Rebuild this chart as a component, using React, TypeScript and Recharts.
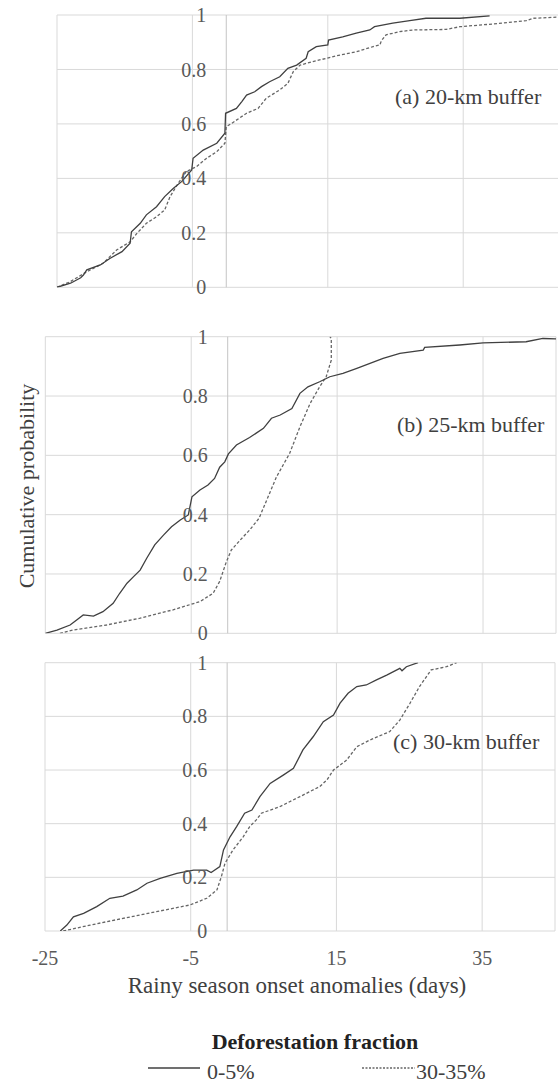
import React from "react";
import { LineChart, Line, XAxis, YAxis, ReferenceLine, ReferenceDot } from "recharts";

// ticks
const yTicks = [0, 0.2, 0.4, 0.6, 0.8, 1];
const yTickLabels = ["0", "0.2", "0.4", "0.6", "0.8", "1"];
const xTicks = [-25, -5, 15, 35];

// (a) 20-km buffer
const a0X = [-25, -23, -21.5, -21.1, -20.6, -18.6, -17.2, -15.4, -14.2, -14.0, -12.7, -11.8, -10.3, -9.1, -7.8, -6.6, -5.1, -4.9, -3.4, -1.4, -0.2, -0.1, 1.5, 2.3, 3.0, 4.2, 5.2, 6.4, 7.9, 9.1, 10.4, 11.8, 12.1, 13.3, 15.0, 15.1, 17.2, 19.2, 21.2, 21.9, 24.6, 27.1, 29.5, 34.5, 38.9];
const a0Y = [0, 0.015, 0.035, 0.045, 0.064, 0.082, 0.106, 0.131, 0.162, 0.204, 0.235, 0.266, 0.296, 0.333, 0.364, 0.388, 0.431, 0.474, 0.504, 0.529, 0.566, 0.639, 0.657, 0.682, 0.706, 0.718, 0.737, 0.755, 0.773, 0.804, 0.816, 0.841, 0.865, 0.884, 0.89, 0.908, 0.92, 0.933, 0.945, 0.957, 0.97, 0.979, 0.988, 0.988, 0.997];
const a30X = [-25, -23.1, -20.6, -18.2, -16.2, -14.2, -13.2, -11.8, -10.3, -9.1, -8.3, -7.1, -5.9, -4.4, -2.9, -1.4, -0.2, 0.0, 0.8, 1.5, 3.0, 4.7, 5.9, 7.9, 9.1, 9.9, 10.9, 12.8, 14.8, 16.8, 19.2, 21.7, 22.7, 22.9, 23.6, 25.6, 27.6, 32.5, 34.5, 39.4, 44.3, 45.3, 48.9];
const a30Y = [0, 0.02, 0.057, 0.088, 0.137, 0.167, 0.198, 0.235, 0.259, 0.284, 0.333, 0.382, 0.425, 0.443, 0.474, 0.498, 0.529, 0.59, 0.602, 0.614, 0.639, 0.657, 0.694, 0.725, 0.749, 0.792, 0.816, 0.829, 0.841, 0.853, 0.865, 0.884, 0.89, 0.905, 0.927, 0.939, 0.945, 0.947, 0.957, 0.967, 0.979, 0.988, 0.992];

// (b) 25-km buffer
const b0X = [-25, -23.4, -21.6, -20.7, -19.8, -18.4, -17.1, -15.7, -14.8, -13.8, -12.9, -12.0, -11.1, -10.0, -8.8, -7.7, -6.5, -5.4, -4.9, -3.8, -2.7, -1.8, -1.1, -0.4, 0.1, 1.2, 3.0, 4.9, 6.0, 7.2, 8.8, 9.9, 11.0, 12.6, 14.0, 15.8, 17.7, 19.5, 21.3, 23.6, 26.8, 27.0, 31.8, 35.0, 40.9, 43.2, 45];
const b0Y = [0, 0.011, 0.028, 0.045, 0.062, 0.058, 0.073, 0.101, 0.135, 0.169, 0.191, 0.213, 0.253, 0.298, 0.331, 0.359, 0.382, 0.399, 0.46, 0.483, 0.5, 0.522, 0.56, 0.578, 0.605, 0.635, 0.66, 0.691, 0.725, 0.736, 0.758, 0.809, 0.831, 0.848, 0.865, 0.876, 0.893, 0.91, 0.927, 0.944, 0.955, 0.964, 0.972, 0.979, 0.983, 0.994, 0.993];
const b30X = [-23, -21.2, -16.6, -12.0, -7.5, -3.8, -2.0, -1.1, -0.2, 0.5, 1.7, 3.0, 4.3, 6.7, 8.5, 9.9, 11.3, 12.6, 13.5, 14.2, 14.2, 14.0];
const b30Y = [0, 0.011, 0.028, 0.051, 0.079, 0.107, 0.135, 0.175, 0.24, 0.281, 0.314, 0.348, 0.388, 0.528, 0.607, 0.696, 0.775, 0.831, 0.865, 0.921, 0.994, 1];

// (c) 30-km buffer
const c0X = [-22.9, -22.0, -21.1, -19.7, -17.9, -16.1, -14.3, -12.4, -11.0, -9.2, -6.9, -4.6, -2.8, -2.2, -1.0, -0.5, 0.4, 1.3, 2.4, 3.4, 4.5, 5.9, 7.7, 9.1, 10.4, 11.8, 13.2, 14.6, 15.5, 16.6, 17.8, 19.1, 20.5, 21.9, 23.7, 24.0, 24.6, 26.2];
const c0Y = [0, 0.022, 0.053, 0.066, 0.091, 0.122, 0.13, 0.153, 0.178, 0.196, 0.215, 0.227, 0.227, 0.218, 0.24, 0.302, 0.351, 0.389, 0.439, 0.451, 0.501, 0.55, 0.581, 0.606, 0.675, 0.724, 0.78, 0.805, 0.849, 0.886, 0.911, 0.917, 0.936, 0.954, 0.979, 0.97, 0.985, 1];
const c30X = [-22.5, -18.8, -14.3, -9.7, -5.1, -2.8, -1.4, -0.8, -0.3, 0.8, 2.2, 3.1, 4.0, 4.7, 7.2, 10.0, 12.7, 13.7, 14.6, 16.4, 17.8, 19.6, 22.3, 23.7, 25.1, 26.4, 28.0, 30.1, 31.5];
const c30Y = [0, 0.022, 0.047, 0.072, 0.097, 0.122, 0.153, 0.202, 0.252, 0.302, 0.351, 0.389, 0.414, 0.439, 0.463, 0.501, 0.538, 0.563, 0.6, 0.637, 0.687, 0.712, 0.743, 0.786, 0.849, 0.911, 0.973, 0.985, 1];

const serif = "Liberation Serif";
const gridColor = "#d9d9d9";

const zip = (xs: number[], ys: number[]) => xs.map((x, i) => ({ x, y: ys[i] }));

type PanelProps = {
  top: number;
  height: number;
  margin: { top: number; right: number; bottom: number; left: number };
  xMax: number;
  grid: number[];
  low: { x: number; y: number }[];
  high: { x: number; y: number }[];
  showX?: boolean;
};

function Panel({ top, height, margin, xMax, grid, low, high, showX }: PanelProps) {
  return (
    <div style={{ position: "absolute", left: 0, top }}>
      <LineChart width={558} height={height} margin={margin}>
        <XAxis
          type="number"
          dataKey="x"
          domain={[-25, xMax]}
          ticks={xTicks}
          hide={!showX}
          height={44}
          axisLine={false}
          tickLine={false}
          tickMargin={14}
          tick={{ fill: "#595959", fontSize: 20, fontFamily: serif }}
          allowDataOverflow
        />
        <YAxis type="number" domain={[0, 1]} hide allowDataOverflow />
        {yTicks.map((v) => (
          <ReferenceLine key={"h" + v} y={v} stroke={gridColor} strokeWidth={1} />
        ))}
        {grid.map((v) => (
          <ReferenceLine key={"v" + v} x={v} stroke={gridColor} strokeWidth={1} />
        ))}
        <ReferenceLine x={0} stroke="#c4c4c4" strokeWidth={1} />
        {yTicks.map((v, i) => (
          <ReferenceDot
            key={"l" + v}
            x={0}
            y={v}
            r={0}
            fill="none"
            stroke="none"
            label={{ value: yTickLabels[i], position: "left", offset: 20, fill: "#595959", fontSize: 20, fontFamily: serif }}
          />
        ))}
        <Line data={high} dataKey="y" type="linear" stroke="#666666" strokeWidth={1.3} strokeDasharray="3 2" dot={false} isAnimationActive={false} />
        <Line data={low} dataKey="y" type="linear" stroke="#404040" strokeWidth={1.3} dot={false} isAnimationActive={false} />
      </LineChart>
    </div>
  );
}

// html text placed by its left edge and baseline-ish top
function Txt({ x, y, size = 22, bold, color = "#404040", children }: { x: number; y: number; size?: number; bold?: boolean; color?: string; children: React.ReactNode }) {
  return (
    <div
      style={{
        position: "absolute",
        left: x,
        top: y,
        fontFamily: serif,
        fontSize: size,
        fontWeight: bold ? "bold" : "normal",
        color,
        lineHeight: 1,
        whiteSpace: "nowrap",
      }}
    >
      {children}
    </div>
  );
}

export default function App() {
  return (
    <div style={{ position: "absolute", left: 0, top: 0, width: 558, height: 1083, background: "#fff", overflow: "hidden", fontFamily: serif }}>
      <Panel
        top={0}
        height={300}
        margin={{ top: 15, right: 0, bottom: 12.7, left: 57 }}
        xMax={49}
        grid={[-25, -5, 15, 35]}
        low={zip(a0X, a0Y)}
        high={zip(a30X, a30Y)}
      />
      <Panel
        top={300}
        height={345}
        margin={{ top: 36.7, right: 2, bottom: 11.7, left: 45.3 }}
        xMax={45}
        grid={[-25, -5, 15, 35, 45]}
        low={zip(b0X, b0Y)}
        high={zip(b30X, b30Y)}
      />
      <Panel
        top={645}
        height={330}
        margin={{ top: 17.7, right: 3, bottom: 0, left: 45 }}
        xMax={45}
        grid={[-25, -5, 15, 35, 45]}
        low={zip(c0X, c0Y)}
        high={zip(c30X, c30Y)}
        showX
      />
      <Txt x={395} y={86}>(a) 20-km buffer</Txt>
      <Txt x={397} y={414}>(b) 25-km buffer</Txt>
      <Txt x={393} y={731}>(c) 30-km buffer</Txt>
      <div
        style={{
          position: "absolute",
          left: 27,
          top: 486,
          transform: "translate(-50%, -50%) rotate(-90deg)",
          fontFamily: serif,
          fontSize: 22,
          color: "#404040",
          lineHeight: 1,
          whiteSpace: "nowrap",
        }}
      >
        Cumulative probability
      </div>
      <div style={{ position: "absolute", left: 0, width: 594, top: 974, textAlign: "center", fontFamily: serif, fontSize: 23, color: "#404040", lineHeight: 1 }}>
        Rainy season onset anomalies (days)
      </div>
      <div style={{ position: "absolute", left: 0, width: 630, top: 1031, textAlign: "center", fontFamily: serif, fontSize: 22, fontWeight: "bold", color: "#222", lineHeight: 1 }}>
        Deforestation fraction
      </div>
      <svg width={558} height={1083} style={{ position: "absolute", left: 0, top: 0, pointerEvents: "none" }}>
        <line x1={148} x2={200} y1={1068} y2={1068} stroke="#404040" strokeWidth={1.3} />
        <line x1={362} x2={415} y1={1068} y2={1068} stroke="#666666" strokeWidth={1.3} strokeDasharray="2 1.5" />
      </svg>
      <Txt x={207} y={1061}>0-5%</Txt>
      <Txt x={416} y={1061}>30-35%</Txt>
    </div>
  );
}
